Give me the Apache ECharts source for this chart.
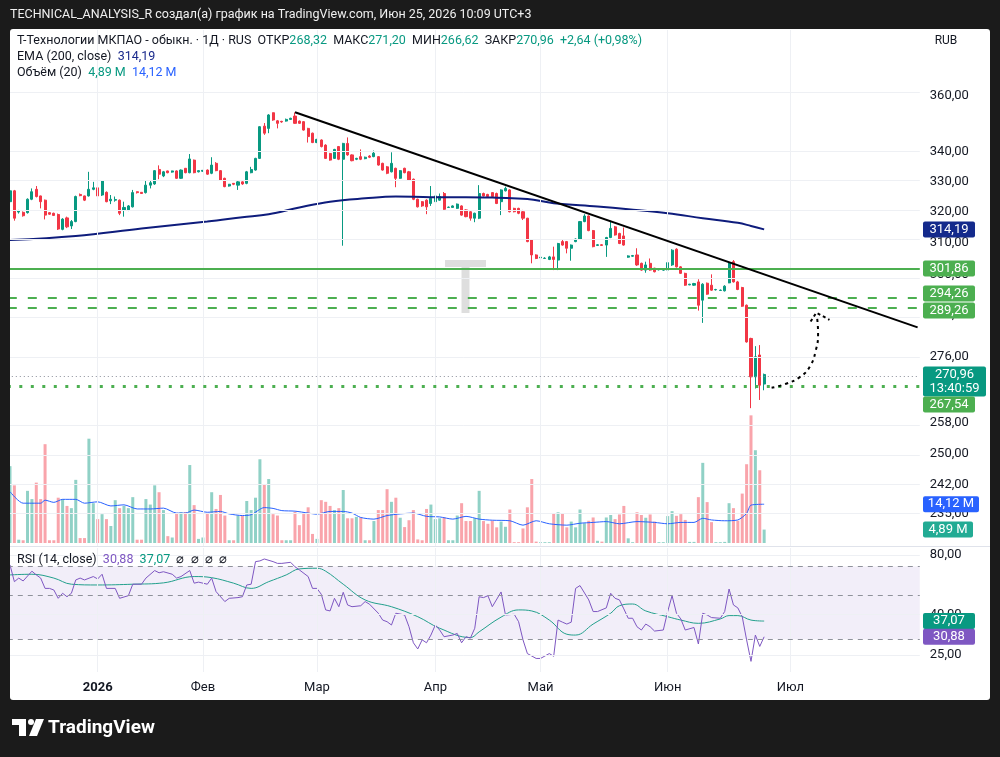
<!DOCTYPE html>
<html>
<head>
<meta charset="utf-8">
<script src="https://cdn.jsdelivr.net/npm/echarts@6/dist/echarts.min.js"></script>
<style>
  html, body { margin: 0; padding: 0; background: #1b1b1b; }
  #chart { width: 1000px; height: 757px; }
</style>
</head>
<body>
<div id="chart"></div>
<script>
// daily candles, Т-Технологии, Dec 2025 .. Jun 2026 (prices in RUB)
var opens = [323.2,326.8,319.8,319.7,319.6,324.0,327.3,325.1,323.7,319.6,
  319.4,319.0,314.2,317.9,315.3,316.7,325.6,325.1,325.1,327.3,
  327.8,325.4,326.3,323.5,323.7,323.7,320.5,320.5,321.5,326.5,
  326.3,326.2,328.7,329.1,334.0,331.8,333.5,333.1,333.5,331.0,
  334.4,332.9,337.2,333.2,333.4,333.8,332.7,336.1,333.6,331.0,
  328.4,329.3,328.7,329.8,329.3,332.9,333.8,337.8,349.1,348.3,
  353.9,351.0,350.8,350.9,351.5,352.7,350.9,350.7,348.3,346.6,
  343.3,344.2,342.4,339.5,337.8,341.9,337.5,343.0,339.0,337.5,
  338.4,337.7,338.6,338.4,338.4,336.1,334.9,333.2,334.4,331.0,
  334.4,333.2,330.7,324.0,323.2,323.7,322.6,323.2,323.7,325.9,
  321.3,321.3,321.0,321.8,320.5,319.9,317.8,317.8,325.9,325.6,
  326.2,325.9,323.2,326.8,327.1,321.0,321.0,319.9,317.8,310.8,
  306.1,305.2,305.0,304.7,305.5,304.5,310.3,310.3,308.2,310.3,
  311.0,316.7,318.5,313.8,309.1,309.3,309.2,311.6,315.0,312.9,
  312.1,305.4,305.7,306.1,303.5,301.4,303.5,302.0,301.5,301.4,
  301.4,303.0,307.9,302.4,300.4,296.9,296.8,297.8,292.3,297.4,
  296.8,295.4,295.2,295.1,297.5,304.0,297.8,296.1,290.8,281.1,
  270.3,276.4,268.32];
var closes = [326.8,317.8,320.1,318.6,324.0,326.5,324.9,323.2,318.8,319.1,
  318.7,314.3,317.5,315.0,316.7,324.9,325.2,323.7,327.3,327.8,
  325.1,330.1,323.2,324.0,323.9,319.4,321.3,321.8,326.2,326.2,
  325.9,328.7,329.5,333.6,332.4,333.2,332.9,333.5,331.0,333.8,
  332.9,337.6,332.9,333.6,333.7,332.4,335.5,333.6,330.4,328.2,
  329.0,329.0,329.8,329.1,333.2,334.0,337.8,348.9,346.6,353.1,
  351.3,350.1,350.6,351.5,351.9,350.1,350.1,347.7,345.4,343.3,
  344.4,341.9,337.8,337.2,340.9,337.5,343.0,339.0,337.0,337.8,
  337.5,338.2,338.2,339.6,335.5,333.8,332.7,336.1,331.0,333.6,
  332.9,330.4,324.0,321.5,321.8,321.5,324.3,325.1,324.9,320.7,
  321.4,321.8,322.4,318.8,318.3,317.8,319.4,325.9,325.1,324.9,
  324.9,322.6,327.1,327.6,319.9,319.9,319.4,317.8,310.3,306.1,
  305.0,305.4,305.1,305.5,304.7,309.7,309.2,308.2,309.2,311.1,
  316.7,318.5,313.8,308.7,309.3,309.1,311.6,314.5,312.4,309.7,
  309.2,305.8,305.9,303.0,301.4,303.0,301.4,300.9,301.6,301.5,
  303.7,307.6,302.4,300.4,296.8,297.1,297.3,290.8,297.1,294.1,
  295.3,295.5,295.3,296.5,303.7,297.8,295.5,290.5,280.1,270.3,
  275.9,268.0,270.96];
var highs = [327.4,327.1,320.5,320.0,324.3,327.6,328.4,325.2,323.9,319.8,
  319.6,319.3,317.8,318.3,317.2,325.2,325.9,325.2,333.2,329.8,
  328.1,330.4,326.6,325.4,324.9,323.9,323.2,322.1,327.1,326.6,
  326.4,330.2,330.4,333.8,335.4,333.5,333.6,333.6,333.7,334.0,
  334.5,339.3,337.4,333.7,333.8,334.0,338.2,336.5,333.8,331.2,
  329.1,329.4,330.1,330.0,333.5,334.9,338.0,349.1,350.2,353.4,
  354.0,351.3,351.0,351.8,352.1,354.0,351.1,350.9,348.5,346.8,
  344.6,344.4,342.7,339.7,341.1,342.1,343.2,345.1,339.2,338.0,
  340.9,338.4,338.9,340.5,338.6,336.3,335.2,339.9,334.6,333.8,
  334.6,333.5,330.9,324.2,323.4,324.0,328.4,325.3,325.9,326.4,
  321.6,322.0,322.6,322.0,320.7,320.1,319.6,328.7,326.2,325.8,
  326.4,326.2,327.3,328.2,327.3,321.2,321.2,320.5,317.9,311.0,
  306.3,305.5,305.4,305.8,308.7,309.9,311.0,310.5,309.4,311.3,
  316.9,319.1,318.7,314.0,309.5,309.5,311.8,317.0,315.3,313.1,
  314.8,306.0,306.1,308.2,303.7,304.0,305.0,302.1,301.8,301.6,
  303.9,307.9,308.2,302.6,300.6,297.2,297.5,298.6,297.4,297.6,
  300.1,295.7,295.5,296.8,303.9,304.5,298.1,296.3,291.0,281.3,
  278.9,279.2,271.2];
var lows = [322.8,317.0,319.3,318.3,319.3,323.7,324.6,321.0,317.4,318.9,
  318.5,314.0,313.9,314.6,314.3,316.5,325.0,323.4,324.9,327.0,
  324.9,325.1,323.0,322.4,323.2,318.8,318.3,320.1,321.3,325.9,
  325.8,325.9,327.6,328.8,330.7,331.4,332.7,332.9,330.8,330.8,
  332.7,332.7,332.7,333.0,333.2,332.2,332.4,333.4,330.1,328.0,
  328.2,328.7,327.1,328.8,329.0,332.7,333.6,337.6,346.0,346.6,
  351.0,348.3,350.3,350.7,351.3,349.9,349.9,347.5,343.3,343.1,
  343.1,341.6,337.6,337.0,337.6,337.2,309.0,338.7,336.8,337.2,
  337.2,337.5,337.9,338.2,335.3,333.6,332.4,333.0,328.0,330.8,
  332.7,330.2,323.7,321.3,321.5,319.1,321.8,323.0,323.5,320.5,
  321.2,321.2,320.8,318.6,318.1,317.0,316.5,317.5,324.9,324.6,
  324.7,322.4,318.8,326.6,319.7,319.7,319.1,317.2,310.1,303.5,
  304.8,305.0,304.9,304.5,301.4,301.4,309.0,306.6,304.3,310.1,
  310.8,316.5,313.6,308.5,308.9,308.9,305.5,311.4,312.2,309.5,
  309.0,305.2,305.5,302.7,301.2,300.6,301.2,300.7,301.3,301.2,
  301.2,302.7,302.2,300.2,296.6,296.8,296.6,289.2,285.6,293.9,
  295.1,295.2,295.1,294.9,297.4,297.6,295.3,290.3,279.9,261.8,
  267.1,264.0,266.62];
// volume, millions of shares
var volumes = [28,21,1.2,1,19,16,22,16,36,1,
  1,16.5,16,13.5,12.7,23,1.8,1.8,38,14.5,
  8.7,10.5,8.7,6.2,15.6,12.7,13.5,12.7,16.7,1.2,
  1.2,16,14,21,18.5,12,2.5,2,11,11.3,
  11.3,28.4,13.8,1.5,2,11,18.5,12.4,17.5,10,
  1,1,10,10,15.3,12,16.5,30.5,21.5,23.3,
  10.5,10,1,1,1,11.3,6.5,11,13,3.3,
  1.5,15.6,15,13.5,12,12.7,19.3,9,9,9.5,
  9.3,1,1,8,12,12,19.6,15,16.5,9.2,
  5.8,8.3,12,1.3,1,12.4,14,8.7,9,9.3,
  1,1,10,14.5,8,8,9,19,8,7,
  8.1,5.7,7.8,5.9,12.2,0.3,0.3,5.3,13,23.3,
  0.5,0.3,0.3,0.3,10.8,11.2,10.8,5.7,7.8,5.7,
  12.2,7.2,8.1,9.3,0.8,0.5,9.3,10.2,8.7,10.4,
  13.5,1.7,0.3,11.2,10.2,9.2,10.4,7.8,0.3,0.3,
  9.8,11.6,9.9,10.5,8.4,0.4,0.4,16.7,29.2,14.9,
  7.6,0.3,0.3,0.4,14.5,12.7,8.1,18,28.7,46.5,
  33.8,26.5,4.89];

var emaIdx = [0,15,30,45,53,59,66,73,81,88,96,104,111,118,124,134,141,150,158,166,169,172];
var emaVal = [310.8,312.1,314.5,316.7,318.1,319.1,321.3,323.2,324.3,324.9,324.7,324.7,324.5,324.1,322.7,321.6,320.7,319.4,317.8,316.3,315.3,314.19];

var volMaIdx = [0,3,7,8,10,12,15,17,20,23,26,29,32,35,38,40,42,45,48,50,53,55,58,60,62,65,68,70,73,76,
  78,80,83,86,89,92,95,98,101,104,107,110,114,117,120,123,127,130,133,136,139,143,147,150,153,156,158,160,163,166,168,169,172];
var volMaVal = [18.7,14.5,14.5,15.6,14.8,15.9,15.9,14.5,15,13.5,13.9,12.4,12.4,12.7,10.9,10.9,12,11.2,11.5,10.6,10,10.3,12.9,12.6,11.8,11.6,10.9,10.5,11.5,11.5,
  10.9,9.3,8.7,10,10.6,10.9,9.7,9.5,8.7,9.7,8.7,8.3,8.1,6.5,8.1,7,6.5,7.2,7.5,7.8,7,7.8,7.5,7,7.5,7.5,9,8.4,8.1,8.4,10.8,13.8,14.12];

var rsiIdx = [0,1,2,3,5,6,7,8,9,10,11,12,13,14,15,16,17,19,20,21,22,24,25,27,28,30,31,33,34,35,
  37,38,39,41,42,43,45,46,47,49,50,52,53,54,55,56,57,58,60,61,62,64,65,66,68,69,70,71,72,73,
  74,75,76,77,78,80,81,82,84,85,86,87,88,90,91,92,93,94,95,96,97,98,99,101,102,103,104,105,106,107,
  108,109,110,112,113,115,116,117,118,120,121,123,124,125,126,127,128,129,130,132,133,134,136,137,138,139,140,141,142,143,
  144,145,146,147,149,150,151,152,153,154,156,157,158,159,160,162,163,164,165,166,167,168,169,170,171,172];
var rsiVal = [71.2,58.6,61.1,59.1,66.2,63.4,61.1,54.2,54.2,53.2,48.3,51.2,49.2,51.2,59.8,61.1,59.8,62.2,60.5,63.9,54.2,54.2,48.3,49.8,56.9,56.9,61.1,66.7,65.0,65.8,
  63.9,61.1,62.2,66.7,57.6,58.3,56.9,61.1,52.2,46.5,48.3,48.7,49.2,56.4,56.9,74.0,74.6,76.3,74.0,72.5,72.5,73.4,69.7,67.2,62.2,54.2,54.2,50.6,42.2,41.7,
  48.3,43.8,51.8,44.7,43.8,44.3,46.5,45.1,40.6,37.5,36.8,35.4,40.6,39.8,34.7,28.8,26.8,29.8,28.8,31.5,35.4,33.4,30.9,31.5,32.1,28.8,30.9,30.4,34.1,49.2,
  48.7,49.8,43.8,52.0,39.8,40.1,36.8,29.8,25.4,24.0,24.0,25.4,24.6,37.5,36.6,35.8,36.6,54.2,56.0,47.4,41.4,41.4,43.2,51.2,48.3,47.4,42.7,38.3,38.3,34.7,
  33.4,35.8,34.7,33.0,33.4,41.4,49.8,40.6,38.0,33.4,34.4,28.4,40.6,39.8,38.6,38.3,41.4,53.8,44.7,43.2,39.0,29.8,23.2,31.5,27.6,30.88];
var rsiMaIdx = [0,5,10,14,20,28,35,42,46,51,55,59,63,66,70,72,76,81,87,93,98,105,107,112,116,119,123,127,129,133,137,139,142,145,150,153,157,162,164,166,169,172];
var rsiMaVal = [63.4,63.9,61.1,56.9,56.4,56.9,57.8,62.2,61.4,57.6,54.2,58.6,63.4,68.0,68.5,66.2,56.9,47.4,43.8,39.0,34.1,30.6,32.7,38.8,42.2,41.7,37.5,31.8,31.5,35.8,40.6,44.3,45.2,41.7,39.0,37.5,36.1,38.0,39.5,39.5,37.5,37.07];

var monthIdx = [20,44,70,97,121,150,178];
var monthNames = ['2026','Фев','Мар','Апр','Май','Июн','Июл'];
var priceTicks = [360,340,330,320,310,300,288,276,258,250,242,235];
var rsiTicks = [80,40,25];

// drawings
var resistLevel = 301.86, dashLevel1 = 294.26, dashLevel2 = 289.26, supportLevel = 267.54, lastPrice = 270.96;
var trendIdx = [65,207], trendPrice = [354.1,284.3];
var arrowIdx = [173.7,177.0,180.2,182.4,183.8,184.3,184.0];
var arrowPrice = [267.3,268.4,270.3,273.1,277.8,282.6,287.9];
var headIdx = [182.6,183.9,186.9], headPrice = [286.0,288.6,286.5];

var UP = '#089981', DOWN = '#f23645', FONT = 'Roboto';
var L = Math.log;
var SLOTS = 208;

function fmt(v) { return v.toFixed(2).replace('.', ','); }
function pairs(idx, val, f) {
  return idx.map(function(x, k) { return [x, f ? f(val[k]) : val[k]]; });
}

var candleData = opens.map(function(o, i) {
  return [i, L(o), L(closes[i]), L(lows[i]), L(highs[i])];
});
var volData = volumes.map(function(v, i) {
  var up = closes[i] >= opens[i];
  return { value: [i, v], itemStyle: { color: up ? 'rgba(8,153,129,0.45)' : 'rgba(242,54,69,0.45)' } };
});

function xAx(g, show) {
  return {
    type: 'value', gridIndex: g, min: -0.5, max: SLOTS - 0.5,
    axisLine: { show: false }, axisTick: { show: false }, splitLine: { show: false },
    axisLabel: show ? {
      customValues: monthIdx, margin: 9, color: '#131722', fontSize: 13, fontFamily: FONT,
      formatter: function(v) {
        var k = monthIdx.indexOf(v);
        return k === 0 ? '{b|' + monthNames[k] + '}' : monthNames[k];
      },
      rich: { b: { fontWeight: 'bold', fontSize: 13, color: '#131722', fontFamily: FONT } }
    } : { show: false }
  };
}

function hline(v, color, width, type) {
  return { yAxis: L(v), lineStyle: { color: color, width: width, type: type } };
}

var gridColor = '#eef0f4';

var option = {
  animation: false,
  backgroundColor: '#1b1b1b',
  textStyle: { fontFamily: FONT },
  grid: [
    { left: 7.8, right: 80.2, top: 30, bottom: 211 },
    { left: 7.8, right: 80.2, top: 403, bottom: 214 },
    { left: 7.8, right: 80.2, top: 548, bottom: 85 }
  ],
  xAxis: [xAx(0, false), xAx(1, false), xAx(2, true)],
  yAxis: [
    {
      type: 'value', gridIndex: 0, position: 'right', min: L(227.45), max: L(385.08),
      axisLine: { show: false }, axisTick: { show: false }, splitLine: { show: false },
      axisLabel: {
        customValues: priceTicks.map(L), margin: 10, color: '#131722', fontSize: 13, fontFamily: FONT,
        formatter: function(v) { return fmt(Math.exp(v)); }
      }
    },
    { type: 'value', gridIndex: 1, min: 0, max: 51, show: false },
    {
      type: 'value', gridIndex: 2, position: 'right', min: L(20.5), max: L(86.7),
      axisLine: { show: false }, axisTick: { show: false }, splitLine: { show: false },
      axisLabel: {
        customValues: rsiTicks.map(L), margin: 10, color: '#131722', fontSize: 13, fontFamily: FONT,
        formatter: function(v) { return fmt(Math.exp(v)); }
      }
    }
  ],
  series: [
    { // price pane grid
      type: 'line', xAxisIndex: 0, yAxisIndex: 0, data: [], silent: true, z: 0,
      markLine: {
        silent: true, symbol: ['none', 'none'], label: { show: false },
        lineStyle: { color: gridColor, width: 1, type: 'solid' },
        data: monthIdx.map(function(x) { return { xAxis: x }; })
          .concat(priceTicks.map(function(p) { return { yAxis: L(p) }; }))
      }
    },
    { // rsi pane grid, band, levels
      type: 'line', xAxisIndex: 2, yAxisIndex: 2, data: [], silent: true, z: 0,
      markArea: {
        silent: true, itemStyle: { color: 'rgba(126,87,194,0.1)' },
        data: [[{ yAxis: L(70) }, { yAxis: L(30) }]]
      },
      markLine: {
        silent: true, symbol: ['none', 'none'], label: { show: false },
        lineStyle: { color: gridColor, width: 1, type: 'solid' },
        data: monthIdx.map(function(x) { return { xAxis: x }; })
          .concat(rsiTicks.map(function(p) { return { yAxis: L(p) }; }))
          .concat([70, 50, 30].map(function(p) { return hline(p, '#8f929b', 1, [5, 5]); }))
      }
    },
    {
      type: 'bar', xAxisIndex: 1, yAxisIndex: 1, data: volData, barWidth: 3, z: 1
    },
    {
      type: 'line', xAxisIndex: 1, yAxisIndex: 1, data: pairs(volMaIdx, volMaVal), smooth: 0.25,
      symbol: 'none', lineStyle: { color: '#2962ff', width: 1 }, z: 2
    },
    {
      type: 'candlestick', xAxisIndex: 0, yAxisIndex: 0,
      dimensions: ['idx', 'open', 'close', 'lowest', 'highest'],
      encode: { x: 'idx', y: ['open', 'close', 'lowest', 'highest'] },
      data: candleData, barWidth: 2.6, z: 3,
      itemStyle: { color: UP, color0: DOWN, borderColor: UP, borderColor0: DOWN, borderWidth: 1 }
    },
    {
      type: 'line', xAxisIndex: 0, yAxisIndex: 0, data: pairs(emaIdx, emaVal, L), smooth: 0.4,
      symbol: 'none', lineStyle: { color: '#0e1c7c', width: 2 }, z: 4
    },
    { // horizontal levels
      type: 'line', xAxisIndex: 0, yAxisIndex: 0, data: [], silent: true, z: 5,
      markLine: {
        silent: true, symbol: ['none', 'none'], label: { show: false },
        data: [
          hline(resistLevel, '#4caf50', 2, 'solid'),
          hline(dashLevel1, '#4caf50', 2, [9, 11]),
          hline(dashLevel2, '#4caf50', 2, [9, 11]),
          hline(supportLevel, '#4caf50', 3, [3, 8.5]),
          hline(lastPrice, '#8a8e99', 1, [1, 3])
        ]
      }
    },
    {
      type: 'line', xAxisIndex: 0, yAxisIndex: 0, data: pairs(trendIdx, trendPrice, L),
      symbol: 'none', lineStyle: { color: '#000', width: 2 }, z: 6
    },
    {
      type: 'line', xAxisIndex: 0, yAxisIndex: 0, data: pairs(arrowIdx, arrowPrice, L), smooth: 0.5,
      symbol: 'none', lineStyle: { color: '#000', width: 2, type: [3, 4] }, z: 6
    },
    {
      type: 'line', xAxisIndex: 0, yAxisIndex: 0, data: pairs(headIdx, headPrice, L),
      symbol: 'none', lineStyle: { color: '#000', width: 2, type: [3, 3] }, z: 6
    },
    {
      type: 'line', xAxisIndex: 2, yAxisIndex: 2, data: pairs(rsiMaIdx, rsiMaVal, L), smooth: 0.4,
      symbol: 'none', lineStyle: { color: '#22a08c', width: 1 }, z: 3
    },
    {
      type: 'line', xAxisIndex: 2, yAxisIndex: 2, data: pairs(rsiIdx, rsiVal, L),
      symbol: 'none', lineStyle: { color: '#7e57c2', width: 1 }, z: 4
    }
  ]
};

var chart = echarts.init(document.getElementById('chart'), null, { renderer: 'canvas' });
chart.setOption(option);

function py(v) { return chart.convertToPixel({ yAxisIndex: 0 }, L(v)); }
function vy(v) { return chart.convertToPixel({ yAxisIndex: 1 }, v); }
function ry(v) { return chart.convertToPixel({ yAxisIndex: 2 }, L(v)); }

function tag(y, txt, bg, w, h) {
  h = h || 16;
  return [
    { type: 'rect', z: 50, shape: { x: 923, y: y - h / 2, width: w, height: h, r: 2 }, style: { fill: bg } },
    { type: 'text', z: 51, x: 923 + w / 2, y: y,
      style: { text: txt, fill: '#fff', font: '13px ' + FONT, textAlign: 'center', textVerticalAlign: 'middle', lineHeight: 14 } }
  ];
}

var lastY = py(lastPrice);
var tags = [].concat(
  tag(py(314.19), '314,19', '#142a8c', 52),
  tag(py(resistLevel), fmt(resistLevel), '#4caf50', 52),
  tag(py(dashLevel1), fmt(dashLevel1), '#4caf50', 52),
  tag(py(dashLevel2), fmt(dashLevel2), '#4caf50', 52),
  tag(lastY + 7, '270,96\n13:40:59', UP, 63, 30),
  tag(lastY + 30, fmt(supportLevel), '#4caf50', 52),
  tag(vy(14.12), '14,12 M', '#2962ff', 56),
  tag(vy(4.89), '4,89 M', '#22ab94', 50),
  tag(ry(37.07), '37,07', UP, 52),
  tag(ry(30.88), '30,88', '#7e57c2', 52)
);

var LF = '12.5px ' + FONT;
var legendRich = {
  d: { fill: '#131722', font: LF },
  g: { fill: UP, font: LF },
  n: { fill: '#1a2a8c', font: LF },
  b: { fill: '#2962ff', font: LF },
  p: { fill: '#7e57c2', font: LF }
};
function legend(y, txt) {
  return { type: 'text', z: 40, x: 17, y: y,
    style: { text: txt, rich: legendRich, textVerticalAlign: 'middle' } };
}

var graphics = [
  { type: 'rect', z: -10, shape: { x: 10, y: 29, width: 980, height: 671, r: 3 }, style: { fill: '#ffffff' } },
  // watermark
  { type: 'rect', z: -5, shape: { x: 445, y: 260, width: 41, height: 7 }, style: { fill: '#dedede' } },
  { type: 'rect', z: -5, shape: { x: 461.5, y: 260, width: 8, height: 53 }, style: { fill: '#dedede' } },
  // pane separator
  { type: 'line', z: 20, shape: { x1: 10, y1: 546.5, x2: 990, y2: 546.5 }, style: { stroke: '#e0e3eb', lineWidth: 1 } },
  // dark frame over the left edge
  { type: 'rect', z: 60, shape: { x: 0, y: 0, width: 10, height: 757 }, style: { fill: '#1b1b1b' } },
  { type: 'text', z: 61, x: 10, y: 15,
    style: { text: 'TECHNICAL_ANALYSIS_R создал(а) график на TradingView.com, Июн 25, 2026 10:09 UTC+3',
      fill: '#f0f0f0', font: LF, textVerticalAlign: 'middle' } },
  legend(41, '{d|Т-Технологии МКПАО - обыкн. · 1Д · RUS  ОТКР}{g|268,32}{d|  МАКС}{g|271,20}{d|  МИН}{g|266,62}{d|  ЗАКР}{g|270,96}{g|  +2,64 (+0,98%)}'),
  legend(57, '{d|EMA (200, close)  }{n|314,19}'),
  legend(73, '{d|Объём (20)  }{g|4,89 M}{b|  14,12 M}'),
  legend(560, '{d|RSI (14, close)  }{p|30,88}{g|  37,07}{d|  ⌀  ⌀  ⌀  ⌀}'),
  { type: 'text', z: 40, x: 946, y: 41,
    style: { text: 'RUB', fill: '#131722', font: '12px ' + FONT, textAlign: 'center', textVerticalAlign: 'middle' } },
  // TradingView logo
  { type: 'rect', z: 61, shape: { x: 12, y: 719, width: 14, height: 6 }, style: { fill: '#fff' } },
  { type: 'rect', z: 61, shape: { x: 19, y: 719, width: 7, height: 17 }, style: { fill: '#fff' } },
  { type: 'circle', z: 61, shape: { cx: 31, cy: 722, r: 3 }, style: { fill: '#fff' } },
  { type: 'polygon', z: 61, shape: { points: [[36, 719], [44, 719], [37, 736], [29, 736]] }, style: { fill: '#fff' } },
  { type: 'text', z: 61, x: 48, y: 728,
    style: { text: 'TradingView', fill: '#fff', font: 'bold 19px ' + FONT, textVerticalAlign: 'middle' } }
].concat(tags);

chart.setOption({ graphic: graphics });
</script>
</body>
</html>
